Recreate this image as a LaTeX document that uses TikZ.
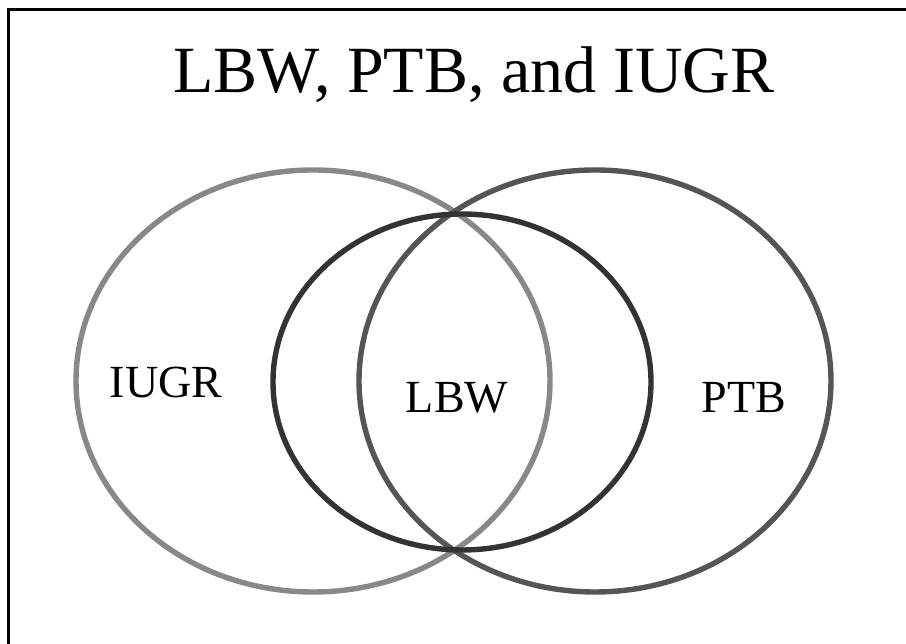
\documentclass[tikz,border=0pt]{standalone}
\usepackage{fontspec}
\setmainfont{Liberation Serif}
\usepackage{xcolor}
\usepackage{tikz}
\def\iugrellipse{(313,263) ellipse (237 and 211)}
\def\ptbellipse{(595,263) ellipse (236 and 211)}
\def\lbwellipse{(462,262) ellipse (189 and 168)}
\definecolor{iugr edge}{HTML}{888888}
\definecolor{ptb edge}{HTML}{555555}
\definecolor{lbw edge}{HTML}{333333}
\tikzset{outline/.style={line width=5.4pt},
    label text/.style={font=\fontsize{46}{55}\selectfont, anchor=base},
    title text/.style={font=\fontsize{66}{79}\selectfont, anchor=base}}

\begin{document}
\begin{tikzpicture}[x=1pt, y=1pt]
    \useasboundingbox (0,0) rectangle (906,644);
    \draw[line width=3pt] (8,-20) -- (8,634) -- (920,634);
    \draw[outline, draw=iugr edge] \iugrellipse;
    \draw[outline, draw=ptb edge] \ptbellipse;
    \draw[outline, draw=lbw edge] \lbwellipse;
    \node[title text] (title) at (474,551) {LBW, PTB, and IUGR};
    \node[label text] (iugr) at (166,246) {IUGR};
    \node[label text] (lbw) at (457,231) {LBW};
    \node[label text] (ptb) at (744,231) {PTB};
\end{tikzpicture}
\end{document}
